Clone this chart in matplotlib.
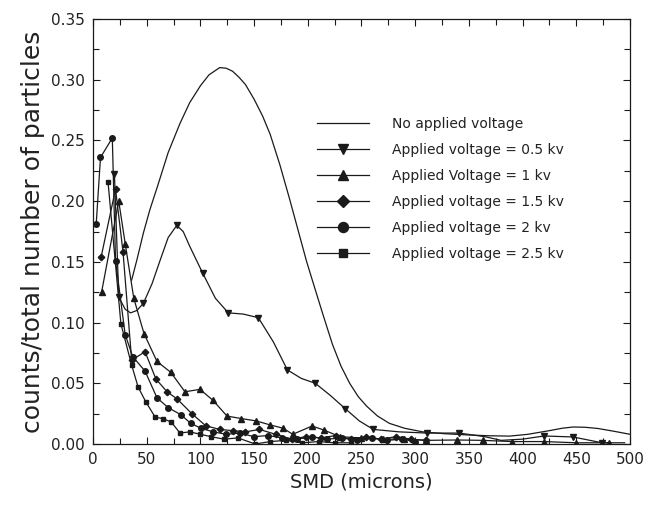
import matplotlib
matplotlib.use("Agg")
import matplotlib.pyplot as plt
from matplotlib.ticker import MultipleLocator, FormatStrFormatter

# ---- data ----
x_none = [36, 41, 47, 53, 60, 70, 81, 90, 100, 108, 118, 124, 130, 136, 142, 150, 158, 165, 174, 183, 191, 199, 207, 214, 223, 231, 239, 247, 255, 265, 276, 290, 307, 327, 348, 368, 388, 405, 425, 437, 447, 458, 470, 485, 500]
y_none = [0.135, 0.152, 0.174, 0.193, 0.212, 0.240, 0.264, 0.281, 0.295, 0.304, 0.310, 0.3095, 0.307, 0.302, 0.296, 0.284, 0.270, 0.255, 0.230, 0.202, 0.176, 0.150, 0.127, 0.107, 0.082, 0.064, 0.050, 0.039, 0.031, 0.023, 0.017, 0.013, 0.010, 0.0085, 0.0075, 0.0068, 0.0065, 0.008, 0.011, 0.013, 0.014, 0.0138, 0.0128, 0.0105, 0.008]

x_05 = [20, 24, 30, 35, 41, 47, 55, 62, 70, 78, 84, 90, 102, 114, 126, 140, 154, 168, 181, 194, 207, 221, 235, 248, 261, 285, 311, 341, 365, 380, 400, 420, 447, 474, 495]
y_05 = [0.222, 0.121, 0.111, 0.108, 0.110, 0.116, 0.132, 0.150, 0.170, 0.180, 0.175, 0.163, 0.141, 0.120, 0.108, 0.107, 0.104, 0.084, 0.061, 0.054, 0.050, 0.040, 0.029, 0.019, 0.012, 0.010, 0.009, 0.009, 0.006, 0.003, 0.004, 0.0066, 0.0058, 0.001, 0.001]
mk_05 = [0, 1, 5, 9, 12, 14, 16, 18, 20, 22, 24, 26, 27, 31, 32, 33]

x_1 = [8, 24, 30, 38, 47.5, 59.6, 72.5, 85.6, 99.6, 111.7, 124.8, 137.8, 152, 165, 177, 186, 204, 215, 230, 250, 270, 290, 310, 339, 363, 390, 420, 450, 480]
y_1 = [0.125, 0.200, 0.165, 0.120, 0.091, 0.068, 0.059, 0.043, 0.045, 0.036, 0.023, 0.021, 0.019, 0.0157, 0.013, 0.008, 0.0148, 0.0115, 0.006, 0.005, 0.004, 0.004, 0.003, 0.0033, 0.003, 0.002, 0.002, 0.001, 0.001]

x_15 = [7.6, 21, 28, 36, 48.5, 58.6, 69, 78.5, 92, 105, 118, 130, 142, 155, 170, 185, 198, 212, 226, 240, 254, 268, 282, 296, 310]
y_15 = [0.154, 0.210, 0.158, 0.069, 0.076, 0.0535, 0.043, 0.037, 0.025, 0.015, 0.012, 0.011, 0.010, 0.012, 0.008, 0.004, 0.006, 0.005, 0.007, 0.004, 0.006, 0.004, 0.006, 0.004, 0.003]

x_2 = [3, 7, 18, 21, 30, 37, 48.5, 59.6, 70, 82, 91, 100.5, 112, 124, 137, 150, 163, 176, 190, 204, 218, 232, 246, 260, 274, 288, 300]
y_2 = [0.181, 0.236, 0.252, 0.151, 0.090, 0.072, 0.060, 0.038, 0.030, 0.024, 0.017, 0.013, 0.010, 0.008, 0.009, 0.006, 0.007, 0.005, 0.004, 0.006, 0.004, 0.005, 0.003, 0.005, 0.003, 0.004, 0.002]

x_25 = [14, 26, 36, 42, 49, 58, 65, 73, 81, 90, 100, 110, 122, 135, 151, 165, 180, 195, 210, 225, 240]
y_25 = [0.216, 0.099, 0.065, 0.047, 0.035, 0.022, 0.021, 0.018, 0.009, 0.010, 0.008, 0.006, 0.004, 0.005, 0.000, 0.002, 0.003, 0.001, 0.002, 0.001, 0.001]

labels = ["No applied voltage",
          "Applied voltage = 0.5 kv",
          "Applied Voltage = 1 kv",
          "Applied voltage = 1.5 kv",
          "Applied voltage = 2 kv",
          "Applied voltage = 2.5 kv"]

xticks = [0, 50, 100, 150, 200, 250, 300, 350, 400, 450, 500]

# ---- figure ----
fig = plt.figure(figsize=(6.47, 5.17), dpi=100)
ax = fig.add_axes([0.1437, 0.1412, 0.8300, 0.8220])

lw = 0.9
ms = 4
ink = "#1a1a1a"
ax.plot(x_none, y_none, color=ink, lw=lw, label=labels[0])
ax.plot(x_05, y_05, color=ink, lw=lw, marker="v", ms=ms, markevery=mk_05, label=labels[1])
ax.plot(x_1, y_1, color=ink, lw=lw, marker="^", ms=ms, label=labels[2])
ax.plot(x_15, y_15, color=ink, lw=lw, marker="D", ms=ms - 0.7, label=labels[3])
ax.plot(x_2, y_2, color=ink, lw=lw, marker="o", ms=ms, label=labels[4])
ax.plot(x_25, y_25, color=ink, lw=lw, marker="s", ms=ms - 0.7, label=labels[5])

ax.set_xlim(0, 500)
ax.set_ylim(0, 0.35)
ax.set_xticks(xticks)
ax.xaxis.set_minor_locator(MultipleLocator(25))
ax.yaxis.set_major_locator(MultipleLocator(0.05))
ax.yaxis.set_minor_locator(MultipleLocator(0.025))
ax.yaxis.set_major_formatter(FormatStrFormatter("%.2f"))
ax.tick_params(which="both", direction="in", top=True, right=True, width=0.8, color=ink)
ax.tick_params(which="major", length=5, labelsize=11, pad=6, labelcolor="#222222")
ax.tick_params(which="minor", length=4)
for s in ax.spines.values():
    s.set_linewidth(0.9)
    s.set_color(ink)

ax.set_xlabel("SMD (microns)", fontsize=14, color="#222222", labelpad=4)
ax.set_ylabel("counts/total number of particles", fontsize=18, color="#222222", labelpad=4)

leg = ax.legend(loc="upper left", bbox_to_anchor=(0.393, 0.80), frameon=False,
                fontsize=10, handlelength=3.8, handletextpad=1.6, labelspacing=0.87,
                markerscale=1.8)
for t in leg.get_texts():
    t.set_color("#222222")

fig.savefig("out.png", dpi=100)
